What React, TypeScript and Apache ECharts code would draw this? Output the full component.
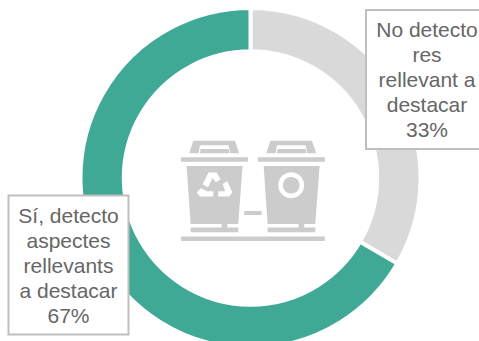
import React, { useEffect, useRef } from "react";
import * as echarts from "echarts";

const categories = ["No detecto\nres\nrellevant a\ndestacar", "Sí, detecto\naspectes\nrellevants\na destacar"];
const values = [33.4, 66.6];
const sliceColors = ["#D9D9D9", "#3FA996"];

const lid = "M93 112H294V125H93Z";
const handle = "M118 100L130 62H255L268 100H241L236 76H150L146 100ZM152 87H236L239 100H150Z";
const body = "M110 138H278L265 312H232V323H265V337H122V323H215V312H122Z";
const binPath = lid + handle + body;
const recycle = "M176 158H200L212 178L198 187L188 174L174 202L158 193ZM218 192L232 183L247 217L238 230H205V214H226ZM153 205L170 213L166 214H190V230H150L140 218Z";
const ring = "M424 157A39 39 0 1 1 423.9 157ZM424 171A25 25 0 1 0 424.1 171Z";
const extras = "M93 350H525V363H93ZM283 273H335V285H283Z";

echarts.graphic.registerShape("binIcon", echarts.graphic.extendPath(binPath, {}));
echarts.graphic.registerShape("recycleIcon", echarts.graphic.extendPath(recycle, {}));
echarts.graphic.registerShape("ringIcon", echarts.graphic.extendPath(ring, {}));
echarts.graphic.registerShape("extrasIcon", echarts.graphic.extendPath(extras, {}));

export default function App() {
  const ref = useRef<HTMLDivElement>(null);
  useEffect(() => {
    const chart = echarts.init(ref.current!, null, { renderer: "svg" });
    const boxes = [
      { x: 367, y: 14, w: 120, h: 131 },
      { x: 9.5, y: 199.5, w: 118, h: 131 },
    ];
    chart.setOption({
      animation: false,
      series: [
        {
          type: "pie",
          center: [250.5, 178],
          radius: [126.7, 170],
          startAngle: 90,
          clockwise: true,
          silent: true,
          itemStyle: { borderColor: "#fff", borderWidth: 4 },
          labelLine: { show: false },
          label: {
            show: true,
            formatter: (p: any) => `${p.name}\n${Math.round(p.value)}%`,
            fontFamily: "Liberation Sans",
            fontSize: 21,
            lineHeight: 25,
            color: "#666666",
            align: "center",
            backgroundColor: "#fff",
            borderColor: "#BFBFBF",
            borderWidth: 2,
          },
          labelLayout: (p: any) => {
            const b = boxes[p.dataIndex];
            return { x: b.x + b.w / 2, y: b.y + b.h / 2, align: "center", verticalAlign: "middle", width: b.w, height: b.h };
          },
          data: categories.map((name, i) => ({
            name,
            value: values[i],
            itemStyle: { color: sliceColors[i] },
            label: { width: boxes[i].w, height: boxes[i].h - 6, padding: [6, 0, 0, 0] },
          })),
        },
      ],
      graphic: [
        {
          type: "group",
          x: 150,
          y: 120,
          scaleX: 1 / 3,
          scaleY: 1 / 3,
          silent: true,
          children: [
            { type: "binIcon", x: 0, y: 0, style: { fill: "#CCCCCC" } },
            { type: "binIcon", x: 231, y: 0, style: { fill: "#CCCCCC" } },
            { type: "extrasIcon", style: { fill: "#CCCCCC" } },
            { type: "recycleIcon", style: { fill: "#fff" } },
            { type: "ringIcon", style: { fill: "#fff" } },
          ],
        },
      ],
    });
    return () => chart.dispose();
  }, []);
  return <div ref={ref} style={{ position: "absolute", left: 0, top: 0, width: 479, height: 341, overflow: "hidden", background: "#fff" }} />;
}
